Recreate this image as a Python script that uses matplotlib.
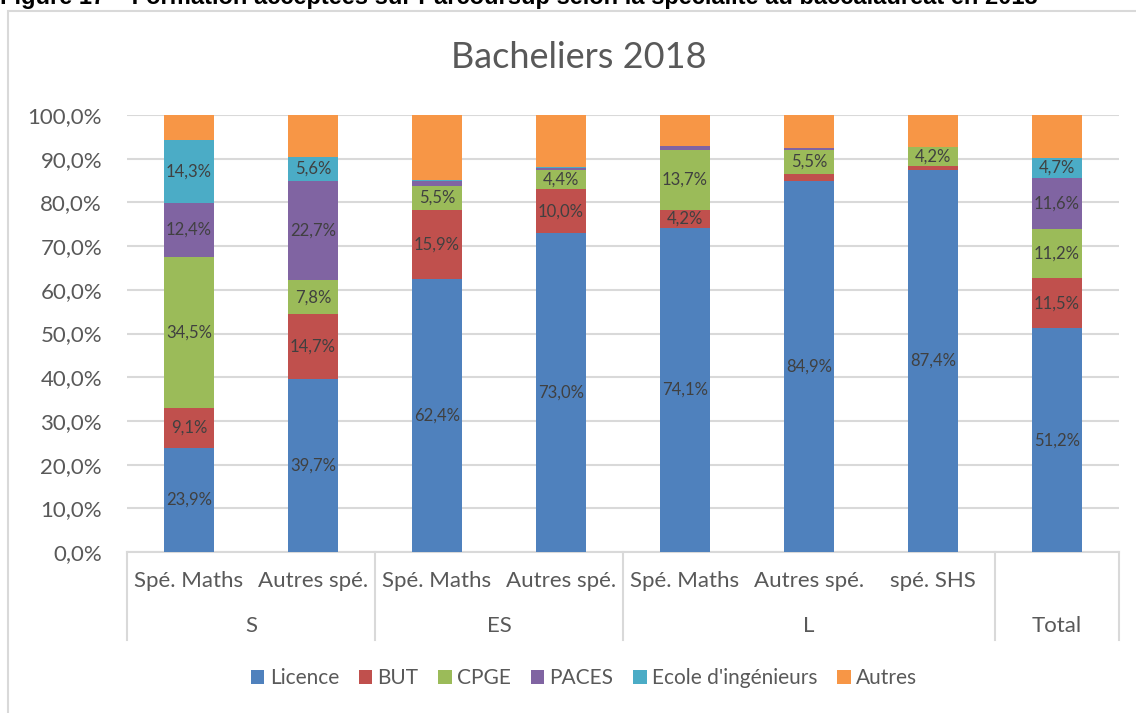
import matplotlib
matplotlib.use("Agg")
from matplotlib import pyplot as plt
from matplotlib.patches import Patch, Rectangle
import matplotlib.transforms as mtransforms
import numpy as np

# categories
sub_labels = ["Spé. Maths", "Autres spé.", "Spé. Maths", "Autres spé.",
              "Spé. Maths", "Autres spé.", "spé. SHS", ""]
groups = ["S", "ES", "L", "Total"]
group_sizes = [2, 2, 3, 1]

# values (%)
licence = [23.9, 39.7, 62.4, 73.0, 74.1, 84.9, 87.4, 51.2]
but = [9.1, 14.7, 15.9, 10.0, 4.2, 1.6, 1.0, 11.5]
cpge = [34.5, 7.8, 5.5, 4.4, 13.7, 5.5, 4.2, 11.2]
paces = [12.4, 22.7, 1.2, 0.4, 0.8, 0.4, 0.0, 11.6]
ecole = [14.3, 5.6, 0.1, 0.2, 0.1, 0.1, 0.0, 4.7]
autres = [5.8, 9.5, 14.9, 12.0, 7.1, 7.5, 7.4, 9.8]

series_names = ["Licence", "BUT", "CPGE", "PACES", "Ecole d'ingénieurs", "Autres"]
series_colors = ["#4F81BD", "#C0504D", "#9BBB59", "#8064A2", "#4BACC6", "#F79646"]

plt.rcParams['font.family'] = ['Lato', 'DejaVu Sans']
txt = "#595959"
grid_c = "#D9D9D9"

fig = plt.figure(figsize=(11.36, 7.13), dpi=100)
W, H = 1136, 713
ax = fig.add_axes([127 / W, 1 - 552 / H, 992 / W, 437 / H])

x = np.arange(len(licence))
bottom = np.zeros(len(x))
all_series = [licence, but, cpge, paces, ecole, autres]
for i, (vals, name, col) in enumerate(zip(all_series, series_names, series_colors)):
    vals = np.array(vals)
    ax.bar(x, vals, 0.4, bottom=bottom, color=col, linewidth=0, zorder=3)
    if name != "Autres":
        for xi, v, b in zip(x, vals, bottom):
            if v >= 4:
                ax.text(xi, b + v / 2, f"{v:.1f}%".replace(".", ","), ha='center',
                        va='center', fontsize=12, color="#404040", zorder=4)
    bottom += vals

ax.set_xlim(-0.5, len(x) - 0.5)
ax.set_ylim(0, 100)
ax.set_yticks(np.arange(0, 101, 10))
ax.set_yticklabels([f"{v:.1f}%".replace(".", ",") for v in np.arange(0, 101, 10)],
                   fontsize=16, color=txt)
ax.tick_params(axis='y', length=0, pad=18)
ax.set_xticks([])
ax.yaxis.grid(True, color=grid_c, linewidth=1.5, zorder=0)
for s in ax.spines.values():
    s.set_visible(False)

trans = mtransforms.blended_transform_factory(ax.transData, ax.transAxes)
ax.plot([-0.5, len(x) - 0.5], [0, 0], color=grid_c, linewidth=1.5,
        transform=trans, clip_on=False, zorder=2)

# category labels
for xi, lab in zip(x, sub_labels):
    ax.text(xi, -0.066, lab, transform=trans, ha='center', va='center',
            fontsize=16, color=txt)

start = -0.5
seps = [start]
for g, n in zip(groups, group_sizes):
    ax.text(start + n / 2, -0.169, g, transform=trans, ha='center', va='center',
            fontsize=16, color=txt)
    start += n
    seps.append(start)
for s in seps:
    ax.plot([s, s], [0, -0.201], color=grid_c, linewidth=1.5, transform=trans,
            clip_on=False)

fig.text(578.5 / W, 1 - 58 / H, "Bacheliers 2018", ha='center', va='center',
         fontsize=26, color=txt)

handles = [Patch(facecolor=c, edgecolor='none') for c in series_colors]
fig.legend(handles, series_names, loc='center', bbox_to_anchor=(584 / W, 1 - 678 / H),
           ncol=6, frameon=False, fontsize=15, handlelength=0.65, handleheight=0.65,
           handletextpad=0.25, columnspacing=0.95, labelcolor=txt)

# chart border
fig.patches.append(Rectangle((8 / W, -0.05), 1.2, 1.05 - 11 / H, transform=fig.transFigure,
                             fill=False, edgecolor=grid_c, linewidth=1.5))

# caption from the page, cut off at the top as in the source screenshot
fig.text(0.0, 1 - 4 / H, "Figure 17 – Formation acceptées sur Parcoursup selon la spécialité au baccalauréat en 2018",
         ha='left', va='baseline', fontsize=17, fontweight='bold',
         family=['Liberation Sans', 'DejaVu Sans'], color='black')

fig.savefig("out.png", dpi=100)
